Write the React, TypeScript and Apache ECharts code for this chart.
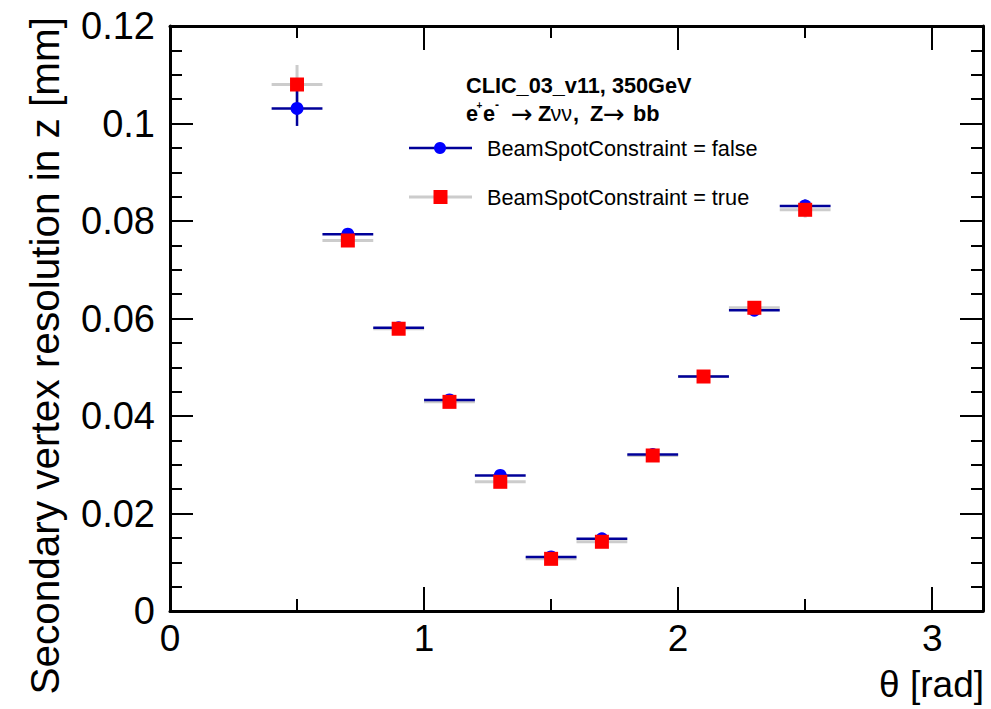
import React, { useEffect, useRef } from "react";
import * as echarts from "echarts";

// ---- data ----
const thetaBins = [0.5, 0.7, 0.9, 1.1, 1.3, 1.5, 1.7, 1.9, 2.1, 2.3, 2.5];
const binHalfWidth = 0.1;
const resFalse = [0.1031, 0.0773, 0.0581, 0.0433, 0.0278, 0.0111, 0.0148, 0.0321, 0.0481, 0.0617, 0.0831];
const resFalseErr = [0.0036, 0.001, 0.0007, 0.0005, 0.0004, 0.0003, 0.0003, 0.0005, 0.0007, 0.001, 0.0013];
const resTrue = [0.108, 0.076, 0.0579, 0.0429, 0.0265, 0.0107, 0.0142, 0.0319, 0.0481, 0.0622, 0.0823];
const resTrueErr = [0.004, 0.0011, 0.0008, 0.0006, 0.0005, 0.0003, 0.0004, 0.0006, 0.0008, 0.0011, 0.0016];
const xTickLabels = ["0", "1", "2", "3"];
const legendFalse = "BeamSpotConstraint = false";
const legendTrue = "BeamSpotConstraint = true";
const headerLine1 = "CLIC_03_v11, 350GeV";
const yTitle = "Secondary vertex resolution in z [mm]";
const xTitle = "θ [rad]";

const FONT = "Liberation Sans";
const BLUE_LINE = "#000099";
const BLUE = "#0000ff";
const GREY = "#cccccc";
const RED = "#ff0000";

function errorBars(name: string, ys: number[], errs: number[], color: string, width: number, z: number) {
  return {
    type: "custom",
    name,
    z,
    xAxisIndex: 0,
    yAxisIndex: 0,
    encode: { x: 0, y: 1 },
    data: thetaBins.map((x, i) => [x, ys[i], errs[i]]),
    renderItem: (_p: any, api: any) => {
      const x = api.value(0);
      const y = api.value(1);
      const e = api.value(2);
      const l = api.coord([x - binHalfWidth, y]);
      const r = api.coord([x + binHalfWidth, y]);
      const t = api.coord([x, y + e]);
      const b = api.coord([x, y - e]);
      return {
        type: "group",
        children: [
          { type: "line", shape: { x1: l[0], y1: l[1], x2: r[0], y2: r[1] }, style: { stroke: color, lineWidth: width } },
          { type: "line", shape: { x1: t[0], y1: t[1], x2: b[0], y2: b[1] }, style: { stroke: color, lineWidth: width } },
        ],
      };
    },
  };
}

export default function App() {
  const ref = useRef<HTMLDivElement>(null);
  useEffect(() => {
    if (!ref.current) return;
    const chart = echarts.init(ref.current, null, { renderer: "svg" });
    const axisLine = { show: true, onZero: false, lineStyle: { color: "#000", width: 3 } };
    const baseX = { type: "value", min: 0, max: 3.2, splitLine: { show: false }, gridIndex: 0 };
    const baseY = { type: "value", min: 0, max: 0.12, interval: 0.02, splitLine: { show: false }, gridIndex: 0 };
    const txt = (text: string, x: number, y: number, size: number, weight: string = "normal", extra: any = {}) => ({
      type: "text",
      x,
      y,
      style: { text, fontFamily: FONT, fontSize: size, fontWeight: weight, fill: "#000", textVerticalAlign: "middle", ...extra },
    });
    chart.setOption({
      animation: false,
      backgroundColor: "#fff",
      grid: { left: 170, right: 8, top: 26, bottom: 98 },
      xAxis: [
        {
          ...baseX,
          position: "bottom",
          interval: 1,
          axisLine,
          axisTick: { show: true, inside: true, length: 24, lineStyle: { color: "#000", width: 2 } },
          axisLabel: {
            show: true,
            margin: 9,
            fontFamily: FONT,
            fontSize: 37,
            color: "#000",
            formatter: (v: number) => (Number.isInteger(v) ? xTickLabels[v] ?? "" : ""),
          },
        },
        {
          ...baseX,
          position: "bottom",
          interval: 0.5,
          axisLine: { show: false, onZero: false },
          axisTick: { show: true, inside: true, length: 12, lineStyle: { color: "#000", width: 2 } },
          axisLabel: { show: false },
        },
        {
          ...baseX,
          position: "top",
          interval: 1,
          axisLine,
          axisTick: { show: true, inside: true, length: 24, lineStyle: { color: "#000", width: 2 } },
          axisLabel: { show: false },
        },
        {
          ...baseX,
          position: "top",
          interval: 0.5,
          axisLine: { show: false, onZero: false },
          axisTick: { show: true, inside: true, length: 12, lineStyle: { color: "#000", width: 2 } },
          axisLabel: { show: false },
        },
      ],
      yAxis: [
        {
          ...baseY,
          position: "left",
          axisLine,
          axisTick: { show: true, inside: true, length: 23, lineStyle: { color: "#000", width: 2 } },
          minorTick: { show: true, splitNumber: 4, length: 12, lineStyle: { color: "#000", width: 2 } },
          axisLabel: { show: true, margin: 15, fontFamily: FONT, fontSize: 38, color: "#000" },
        },
        {
          ...baseY,
          position: "right",
          axisLine,
          axisTick: { show: true, inside: true, length: 23, lineStyle: { color: "#000", width: 2 } },
          minorTick: { show: true, splitNumber: 4, length: 12, lineStyle: { color: "#000", width: 2 } },
          axisLabel: { show: false },
        },
      ],
      series: [
        errorBars("true-err", resTrue, resTrueErr, GREY, 3, 1),
        errorBars("false-err", resFalse, resFalseErr, BLUE_LINE, 2.5, 2),
        {
          type: "scatter",
          name: legendFalse,
          z: 3,
          xAxisIndex: 0,
          yAxisIndex: 0,
          symbol: "circle",
          symbolSize: 13,
          itemStyle: { color: BLUE, opacity: 1 },
          data: thetaBins.map((x, i) => [x, resFalse[i]]),
        },
        {
          type: "scatter",
          name: legendTrue,
          z: 4,
          xAxisIndex: 0,
          yAxisIndex: 0,
          symbol: "rect",
          symbolSize: 14,
          itemStyle: { color: RED, opacity: 1 },
          data: thetaBins.map((x, i) => [x, resTrue[i]]),
        },
      ],
      graphic: [
        {
          type: "text",
          x: 45,
          y: 17,
          rotation: Math.PI / 2,
          style: { text: yTitle, fontFamily: FONT, fontSize: 40.5, fill: "#000", textAlign: "right", textVerticalAlign: "middle" },
        },
        txt(xTitle, 984, 684, 37, "normal", { textAlign: "right" }),
        txt(headerLine1, 466, 85, 21.7, "bold"),
        txt("e", 466, 113, 21.7, "bold"),
        txt("+", 476.5, 105, 10, "bold"),
        txt("e", 483, 113, 21.7, "bold"),
        txt("-", 495, 105, 12, "bold"),
        txt("→", 511, 114, 26, "normal", { fontFamily: "DejaVu Sans" }),
        txt("Z", 538, 113, 21.7, "bold"),
        txt("νν", 550.5, 113, 21.7, "normal"),
        txt(",", 573, 113, 21.7, "bold"),
        txt("Z", 590, 113, 21.7, "bold"),
        txt("→", 603, 114, 26, "normal", { fontFamily: "DejaVu Sans" }),
        txt("bb", 633, 113, 21.7, "bold"),
        { type: "line", shape: { x1: 409, y1: 148, x2: 472, y2: 148 }, style: { stroke: BLUE_LINE, lineWidth: 2.5 } },
        { type: "circle", shape: { cx: 440, cy: 148, r: 6 }, style: { fill: BLUE } },
        { type: "line", shape: { x1: 409, y1: 197, x2: 472, y2: 197 }, style: { stroke: GREY, lineWidth: 3 } },
        { type: "rect", shape: { x: 433.5, y: 190, width: 14, height: 14 }, style: { fill: RED } },
        txt(legendFalse, 487, 148, 21.7),
        txt(legendTrue, 487, 197, 21.7),
      ],
    });
    return () => chart.dispose();
  }, []);
  return (
    <div
      ref={ref}
      style={{ position: "fixed", left: 0, top: 0, width: 991, height: 709, background: "#fff" }}
    />
  );
}
